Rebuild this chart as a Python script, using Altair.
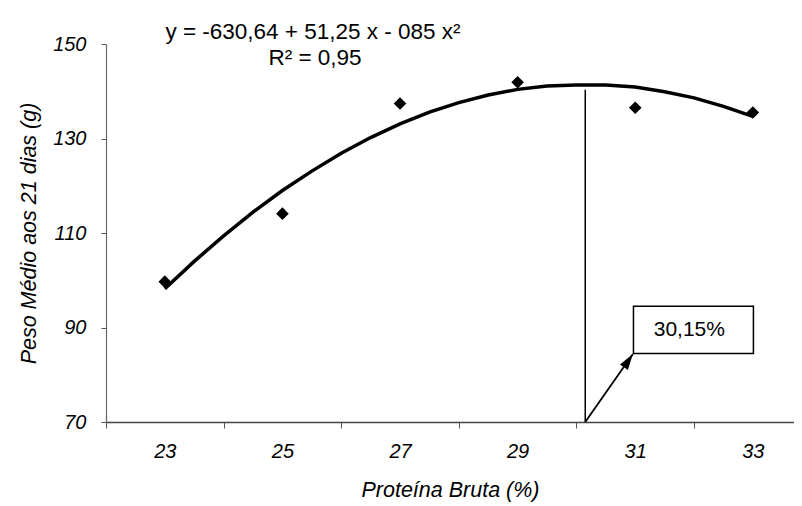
import altair as alt
import pandas as pd

# ---- data ----
data_x = [23, 25, 27, 29, 31, 33]
data_y = [99.7, 114.1, 137.4, 141.9, 136.5, 135.5]

# fitted (trend) curve as drawn
curve_x = [23, 23.5, 24, 24.5, 25, 25.5, 26, 26.5, 27, 27.5, 28, 28.5,
           29, 29.5, 30, 30.5, 31, 31.5, 32, 32.5, 33]
curve_y = [98.2, 104.0, 109.4, 114.4, 119.0, 123.1, 126.9, 130.2, 133.1, 135.6,
           137.6, 139.2, 140.4, 141.1, 141.3, 141.3, 140.9, 139.9, 138.6, 136.8, 134.7]

x_ticks = list(range(22, 34))
y_ticks = [70, 90, 110, 130, 150]

optimum_x = 30.15
optimum_top = 140.3
eq_line1 = "y = -630,64 + 51,25 x - 085 x\u00b2"
eq_line2 = "R\u00b2 = 0,95"
box_label = "30,15%"

# annotation geometry (data units)
arrow_start = (30.15, 70.0)
arrow_end = (30.96, 84.4)
box_x = (30.97, 33.01)
box_y = (84.5, 94.5)
box_text_pos = (31.92, 89.4)

FONT = "Liberation Sans"

xs = alt.Scale(domain=[22, 33.7], nice=False, zero=False)
ys = alt.Scale(domain=[70, 150], nice=False, zero=False)

x_axis = alt.Axis(
    values=x_ticks,
    format="d",
    labelExpr="datum.value % 2 == 1 ? datum.label : ''",
    tickOpacity={"condition": {"test": "datum.value % 2 == 1", "value": 0}, "value": 1},
    labelOverlap=False,
    labelFont=FONT, labelFontSize=20, labelFontStyle="italic", labelColor="black",
    labelPadding=13, tickSize=6, tickColor="#555", domainColor="#444", domainWidth=1.5,
    grid=False,
    title="Proteína Bruta (%)", titleFont=FONT, titleFontSize=21.5,
    titleFontStyle="italic", titleFontWeight="normal", titleColor="black", titlePadding=18,
)
y_axis = alt.Axis(
    values=y_ticks,
    labelFont=FONT, labelFontSize=20, labelFontStyle="italic", labelColor="black",
    labelPadding=15, tickSize=5, tickColor="#555", domainColor="#666", domainWidth=1.2,
    grid=False,
    title="Peso Médio aos 21 dias (g)", titleFont=FONT, titleFontSize=21.5,
    titleFontStyle="italic", titleFontWeight="normal", titleColor="black", titlePadding=12,
)

X = alt.X("x:Q", scale=xs, axis=x_axis)
Y = alt.Y("y:Q", scale=ys, axis=y_axis)

curve_df = pd.DataFrame({"x": curve_x, "y": curve_y})
pts_df = pd.DataFrame({"x": data_x, "y": data_y})

curve = alt.Chart(curve_df).mark_line(color="black", strokeWidth=3.5).encode(x=X, y=Y)
points = alt.Chart(pts_df).mark_point(
    shape="diamond", filled=True, size=160, color="black", opacity=1
).encode(x=X, y=Y)

vline = alt.Chart(pd.DataFrame({"x": [optimum_x], "y": [70], "y2": [optimum_top]})).mark_rule(
    color="black", strokeWidth=1.5
).encode(x=X, y=Y, y2="y2:Q")

arrow = alt.Chart(pd.DataFrame({"x": [arrow_start[0]], "y": [arrow_start[1]],
                                "x2": [arrow_end[0]], "y2": [arrow_end[1]]})).mark_rule(
    color="black", strokeWidth=1.8
).encode(x=X, y=Y, x2="x2:Q", y2="y2:Q")

head = alt.Chart(pd.DataFrame({"x": [arrow_end[0]], "y": [arrow_end[1]]})).mark_point(
    shape="M0,0L0.6,2L-0.6,2Z", filled=True, color="black", size=256, angle=34, opacity=1,
    strokeWidth=0
).encode(x=X, y=Y)

box = alt.Chart(pd.DataFrame({"x": [box_x[0]], "x2": [box_x[1]],
                              "y": [box_y[0]], "y2": [box_y[1]]})).mark_rect(
    fill="white", stroke="black", strokeWidth=1.5
).encode(x=X, x2="x2:Q", y=Y, y2="y2:Q")

box_txt = alt.Chart(pd.DataFrame({"x": [box_text_pos[0]], "y": [box_text_pos[1]],
                                  "t": [box_label]})).mark_text(
    font=FONT, fontSize=21, color="black", align="center", baseline="middle"
).encode(x=X, y=Y, text="t:N")

eq1 = alt.Chart(pd.DataFrame({"t": [eq_line1]})).mark_text(
    font=FONT, fontSize=22.5, color="black", align="center", baseline="alphabetic"
).encode(x=alt.value(207), y=alt.value(-5), text="t:N")
eq2 = alt.Chart(pd.DataFrame({"t": [eq_line2]})).mark_text(
    font=FONT, fontSize=22.5, color="black", align="center", baseline="alphabetic"
).encode(x=alt.value(209), y=alt.value(21), text="t:N")

chart = alt.layer(curve, vline, arrow, box, head, box_txt, points, eq1, eq2).properties(
    width=688, height=378,
    autosize=alt.AutoSizeParams(type="none"),
    padding={"left": 98, "top": 36, "right": 0, "bottom": 82},
    background="white",
).configure_view(stroke=None)

chart.save("out.html", embed_options={"renderer": "svg", "actions": False})
